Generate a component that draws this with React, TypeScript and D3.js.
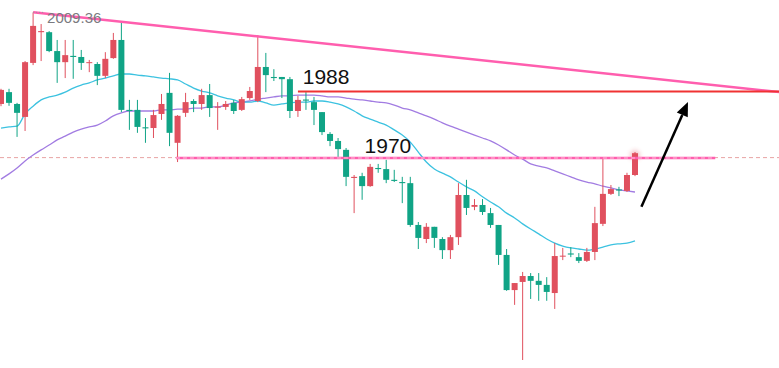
import React from 'react'
import * as d3 from 'd3'

const W = 779
const H = 368

// candles: [open, high, low, close]
const candles: number[][] = [
  [1984.6, 1988.7, 1984.0, 1988.4],
  [1987.8, 1988.7, 1984.1, 1984.9],
  [1984.6, 1984.9, 1975.7, 1982.2],
  [1981.1, 1996.2, 1977.3, 1995.9],
  [1995.7, 2009.36, 1995.1, 2005.7],
  [2004.0, 2006.2, 1996.2, 2004.3],
  [2004.0, 2004.3, 1998.6, 1998.9],
  [1998.9, 2001.9, 1990.3, 1995.9],
  [1995.9, 2001.9, 1991.6, 1997.8],
  [1997.6, 2001.9, 1991.4, 1997.3],
  [1997.3, 1999.2, 1993.8, 1995.7],
  [1995.7, 1996.5, 1993.2, 1995.9],
  [1995.4, 1995.9, 1989.7, 1992.2],
  [1992.2, 1998.6, 1991.6, 1996.8],
  [1997.0, 2003.8, 1996.8, 2001.9],
  [2001.9, 2007.0, 1982.4, 1983.0],
  [1983.0, 1985.7, 1977.6, 1982.7],
  [1983.0, 1985.7, 1976.8, 1978.4],
  [1978.3, 1980.8, 1974.1, 1978.0],
  [1978.1, 1983.0, 1975.4, 1981.6],
  [1981.9, 1987.3, 1980.3, 1984.6],
  [1987.6, 1993.0, 1973.2, 1976.8],
  [1974.1, 1981.6, 1968.9, 1981.4],
  [1982.2, 1987.6, 1981.1, 1985.1],
  [1985.4, 1985.9, 1982.4, 1984.6],
  [1984.6, 1988.7, 1983.0, 1987.0],
  [1987.0, 1990.0, 1981.1, 1983.5],
  [1983.6, 1985.1, 1977.6, 1983.9],
  [1983.8, 1985.4, 1983.0, 1984.6],
  [1984.9, 1985.7, 1981.9, 1982.7],
  [1983.0, 1986.5, 1982.7, 1985.9],
  [1986.2, 1989.2, 1985.7, 1988.1],
  [1985.4, 2003.2, 1985.1, 1994.6],
  [1994.6, 1998.4, 1987.8, 1992.4],
  [1991.9, 1994.0, 1990.8, 1991.6],
  [1991.9, 1991.9, 1986.2, 1991.3],
  [1991.3, 1991.9, 1980.8, 1982.7],
  [1982.7, 1986.8, 1981.1, 1985.7],
  [1985.8, 1987.8, 1983.0, 1985.5],
  [1985.1, 1986.5, 1978.9, 1983.0],
  [1982.4, 1982.4, 1976.2, 1977.0],
  [1976.5, 1977.0, 1973.2, 1974.6],
  [1974.6, 1975.4, 1970.3, 1972.4],
  [1972.2, 1972.7, 1962.4, 1964.9],
  [1964.6, 1965.4, 1955.1, 1964.9],
  [1965.1, 1966.0, 1958.7, 1962.4],
  [1962.4, 1968.4, 1962.2, 1967.6],
  [1967.3, 1968.4, 1966.0, 1967.0],
  [1967.0, 1969.5, 1963.2, 1964.1],
  [1964.1, 1966.8, 1963.5, 1963.8],
  [1963.5, 1964.9, 1957.8, 1963.2],
  [1963.2, 1964.9, 1951.4, 1951.9],
  [1951.9, 1952.7, 1945.4, 1948.4],
  [1948.1, 1952.4, 1947.0, 1951.4],
  [1951.4, 1951.4, 1945.7, 1948.4],
  [1948.1, 1948.6, 1942.7, 1945.1],
  [1945.1, 1949.2, 1942.7, 1948.6],
  [1948.6, 1963.2, 1946.5, 1960.0],
  [1960.0, 1964.1, 1954.6, 1956.5],
  [1956.8, 1958.9, 1955.9, 1957.3],
  [1957.3, 1958.9, 1954.6, 1955.4],
  [1955.1, 1956.5, 1951.1, 1951.9],
  [1951.9, 1951.9, 1941.1, 1943.8],
  [1943.8, 1945.4, 1934.1, 1934.3],
  [1934.3, 1936.2, 1930.3, 1936.2],
  [1936.5, 1939.2, 1915.4, 1938.1],
  [1938.1, 1938.9, 1931.9, 1936.8],
  [1936.8, 1938.9, 1931.4, 1935.7],
  [1935.7, 1937.8, 1931.4, 1933.8],
  [1933.5, 1947.0, 1929.2, 1943.5],
  [1943.4, 1945.7, 1942.4, 1943.6],
  [1944.2, 1945.9, 1943.2, 1943.9],
  [1943.2, 1944.3, 1941.6, 1942.2],
  [1942.2, 1945.7, 1941.9, 1944.6],
  [1944.6, 1956.8, 1942.4, 1952.4],
  [1952.2, 1970.0, 1951.6, 1960.3],
  [1960.3, 1962.7, 1960.0, 1961.6],
  [1961.5, 1962.2, 1959.7, 1961.2],
  [1961.1, 1966.0, 1960.8, 1965.4],
  [1965.4, 1971.6, 1965.1, 1971.3],
]

const maFast = [
  1978.1, 1978.4, 1978.6, 1981.9, 1984.0, 1985.7, 1986.5, 1987.0, 1987.8, 1988.9,
  1989.7, 1990.3, 1991.1, 1991.6, 1992.2, 1992.7, 1992.7, 1992.4, 1992.2, 1991.9,
  1991.6, 1991.4, 1991.1, 1990.0, 1988.9, 1988.1, 1987.6, 1986.8, 1986.2, 1985.7,
  1985.1, 1985.1, 1985.4, 1984.9, 1984.3, 1984.6, 1984.9, 1985.1, 1985.1, 1985.4,
  1985.4, 1985.1, 1984.6, 1983.8, 1982.7, 1981.4, 1980.5, 1979.7, 1978.9, 1977.6,
  1976.2, 1974.3, 1971.6, 1968.9, 1967.0, 1965.9, 1964.9, 1963.5, 1962.2, 1961.1,
  1959.5, 1958.1, 1956.8, 1955.1, 1953.8, 1952.2, 1950.8, 1949.5, 1948.1, 1947.0,
  1946.2, 1945.7, 1945.4, 1945.1, 1945.4, 1945.9, 1946.5, 1946.8, 1947.0, 1947.6,
]

const maSlow = [
  1964.3, 1965.7, 1967.3, 1969.2, 1970.8, 1972.2, 1973.5, 1974.9, 1975.9, 1977.0,
  1977.8, 1978.4, 1978.9, 1980.0, 1981.4, 1982.2, 1982.7, 1982.7, 1982.7, 1982.7,
  1983.0, 1983.0, 1983.2, 1983.2, 1983.5, 1983.5, 1983.8, 1983.8, 1984.3, 1984.9,
  1985.1, 1985.4, 1985.9, 1986.2, 1986.5, 1986.8, 1986.8, 1987.0, 1987.0, 1987.0,
  1986.8, 1986.5, 1986.5, 1986.2, 1985.9, 1985.7, 1985.4, 1985.1, 1984.9, 1984.3,
  1983.5, 1983.0, 1982.2, 1981.4, 1980.5, 1979.5, 1978.6, 1977.8, 1977.0, 1976.2,
  1975.4, 1974.6, 1973.5, 1972.2, 1970.8, 1969.7, 1968.4, 1967.8, 1967.3, 1966.5,
  1965.7, 1964.9, 1964.1, 1963.5, 1963.0, 1962.4, 1961.9, 1961.4, 1961.1, 1960.8,
]

// annotations, as [bar index, price]
const trendLine = [[4, 2009.36], [97, 1987.8]]
const resistance = { price: 1988, from: 37, label: '1988', labelAt: 37.6 }
const support = { price: 1970, from: 21.8, to: 89, label: '1970', labelAt: 45.3 }
const lastPrice = 1970.1
const highLabel = { index: 4, price: 2009.36, text: '2009.36' }
const arrow = [[79.8, 1956.8], [85.6, 1985.1]]

const UP = '#e0505e'
const DOWN = '#10a486'

export default function App() {
  const x = d3.scaleLinear().domain([0, candles.length - 1]).range([1, 635])
  const y = d3.scaleLinear().domain([1913.24, 2012.7]).range([H, 0])
  const bw = 6

  const maLine = d3
    .line<number>()
    .x((_, i) => x(i))
    .y((d) => y(d))
    .curve(d3.curveMonotoneX)

  const [a0, a1] = arrow
  const ax0 = x(a0[0]), ay0 = y(a0[1]), ax1 = x(a1[0]), ay1 = y(a1[1])
  const ang = Math.atan2(ay1 - ay0, ax1 - ax0)
  const headLen = 14
  const headW = 6
  const bx = ax1 - headLen * Math.cos(ang)
  const by = ay1 - headLen * Math.sin(ang)
  const head = [
    [ax1, ay1],
    [bx + headW * Math.sin(ang), by - headW * Math.cos(ang)],
    [bx - headW * Math.sin(ang), by + headW * Math.cos(ang)],
  ]

  const last = candles[candles.length - 1]

  return (
    <svg
      width={W}
      height={H}
      style={{ position: 'absolute', left: 0, top: 0, background: '#fff' }}
      fontFamily="'Liberation Sans', Arial, sans-serif"
    >
      <defs>
        <filter id="glow" x="-100%" y="-100%" width="300%" height="300%">
          <feGaussianBlur stdDeviation="2.5" />
        </filter>
      </defs>

      {/* current price line */}
      <line x1={0} x2={W} y1={y(lastPrice)} y2={y(lastPrice)} stroke="#e8a3a3" strokeWidth={1} strokeDasharray="4,3" />

      {/* moving averages */}
      <path d={maLine(maSlow) || ''} fill="none" stroke="#a27ce2" strokeWidth={1.3} />
      <path d={maLine(maFast) || ''} fill="none" stroke="#3cc2e0" strokeWidth={1.3} />

      {/* candles */}
      {candles.map(([o, h, l, c], i) => {
        const col = c >= o ? UP : DOWN
        const top = y(Math.max(o, c))
        const bot = y(Math.min(o, c))
        return (
          <g key={i}>
            <line x1={x(i)} x2={x(i)} y1={y(h)} y2={y(l)} stroke={col} strokeWidth={1} />
            <rect x={x(i) - bw / 2} y={top} width={bw} height={Math.max(1, bot - top)} fill={col} />
          </g>
        )
      })}

      <circle cx={x(candles.length - 1)} cy={y(last[3]) + 2} r={4.5} fill={UP} opacity={0.45} filter="url(#glow)" />

      {/* trend line */}
      <line
        x1={x(trendLine[0][0])}
        y1={y(trendLine[0][1])}
        x2={x(trendLine[1][0])}
        y2={y(trendLine[1][1])}
        stroke="#ff5eae"
        strokeWidth={2.5}
      />

      {/* high label */}
      <line
        x1={x(highLabel.index)}
        x2={x(highLabel.index) + 12}
        y1={y(highLabel.price)}
        y2={y(highLabel.price)}
        stroke="#999"
        strokeWidth={1}
        strokeDasharray="1,2"
      />
      <text x={x(highLabel.index) + 14} y={y(highLabel.price) + 11} fontSize={15} fill="#7a7a80">
        {highLabel.text}
      </text>

      {/* 1988 resistance */}
      <line x1={x(resistance.from)} x2={W} y1={y(resistance.price)} y2={y(resistance.price)} stroke="#f03232" strokeWidth={2} />
      <text x={x(resistance.labelAt)} y={y(resistance.price) - 7} fontSize={21} fill="#111">
        {resistance.label}
      </text>

      {/* 1970 support */}
      <line x1={x(support.from)} x2={x(support.to)} y1={y(support.price)} y2={y(support.price)} stroke="#ff5eae" strokeWidth={2.5} />
      <line
        x1={x(support.from)}
        x2={x(support.to)}
        y1={y(support.price)}
        y2={y(support.price)}
        stroke="#ffc2dc"
        strokeWidth={1}
        strokeDasharray="4,3"
      />
      <text x={x(support.labelAt)} y={y(support.price) - 5} fontSize={21} fill="#111">
        {support.label}
      </text>

      {/* arrow */}
      <line x1={ax0} y1={ay0} x2={bx} y2={by} stroke="#000" strokeWidth={2.5} />
      <polygon points={head.map((p) => p.join(',')).join(' ')} fill="#000" />
    </svg>
  )
}
